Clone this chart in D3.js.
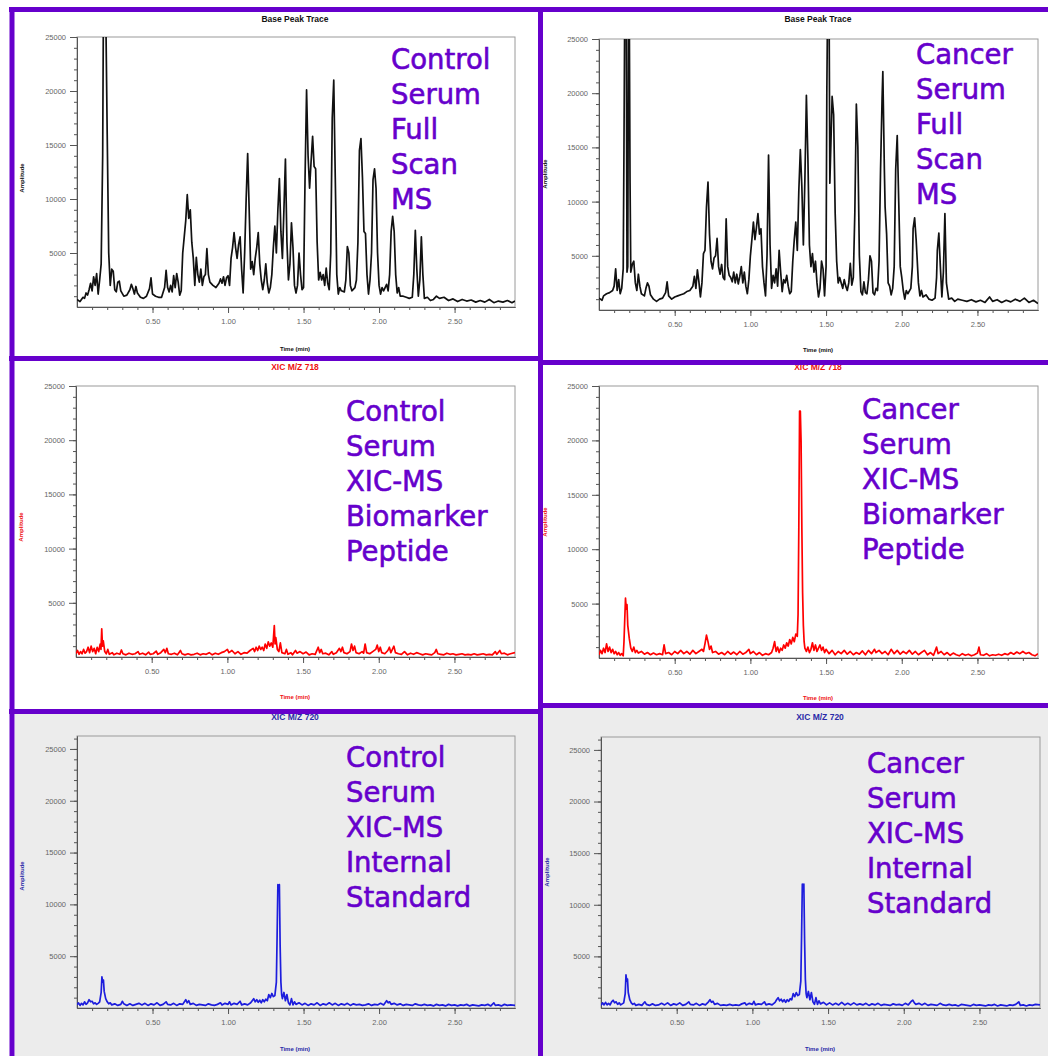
<!DOCTYPE html>
<html>
<head>
<meta charset="utf-8">
<script src="https://cdn.jsdelivr.net/npm/d3@7"></script>
<style>
  body { margin: 0; background: #fff; }
  svg { display: block; font-family: "Liberation Sans", Arial, sans-serif; }
</style>
</head>
<body>
<script>

// Time (min), amplitude pairs
var controlBasePeak = [
  [0.00,700],[0.02,500],[0.04,900],[0.05,800],[0.06,1300],[0.07,1100],[0.08,1600],[0.09,2200],[0.10,1500],[0.11,2800],[0.12,2000],[0.13,3100],[0.14,1200],[0.15,2500],[0.16,4000],
  [0.17,14000],[0.175,28000],[0.19,28000],[0.20,16000],[0.21,5000],[0.22,2000],[0.23,3500],[0.24,3300],[0.25,1600],[0.26,1400],[0.27,2300],[0.28,2400],[0.29,1500],[0.31,1000],
  [0.33,1100],[0.35,1600],[0.36,2100],[0.37,1700],[0.38,1200],[0.39,1900],[0.40,1300],[0.42,900],[0.44,800],[0.46,1000],[0.48,1700],[0.49,2700],[0.50,1200],[0.52,1000],
  [0.54,900],[0.56,900],[0.58,1800],[0.59,3400],[0.60,1800],[0.61,1400],[0.62,2000],[0.63,1400],[0.64,2900],[0.65,1800],[0.66,3100],[0.67,2300],[0.68,1100],[0.69,1500],
  [0.70,5000],[0.71,6500],[0.72,8000],[0.73,10400],[0.74,8200],[0.75,9000],[0.76,6000],[0.77,4500],[0.78,2000],[0.79,4600],[0.80,3000],[0.81,2300],[0.82,3500],[0.83,2000],
  [0.84,2800],[0.85,3000],[0.86,5400],[0.87,3000],[0.88,2300],[0.90,2000],[0.92,1800],[0.94,2200],[0.95,2600],[0.96,2200],[0.97,2800],[0.98,2000],[0.99,2700],[1.00,2900],
  [1.01,2000],[1.02,4500],[1.03,5500],[1.04,6900],[1.05,5500],[1.06,4500],[1.07,5800],[1.08,6500],[1.09,3500],[1.10,1300],[1.11,5000],[1.12,10000],[1.13,14200],[1.14,9000],
  [1.15,3500],[1.16,4200],[1.17,3000],[1.18,4500],[1.19,5500],[1.20,6900],[1.21,4000],[1.22,2500],[1.23,1600],[1.24,2500],[1.25,4000],[1.26,2200],[1.27,1300],[1.28,1800],
  [1.29,3000],[1.30,5500],[1.31,7500],[1.32,5000],[1.33,9000],[1.34,11900],[1.35,7000],[1.36,4500],[1.37,9000],[1.38,13700],[1.39,6000],[1.40,2500],[1.41,4000],[1.42,7800],
  [1.43,5500],[1.44,2000],[1.45,1300],[1.46,2000],[1.47,5000],[1.48,3000],[1.49,1600],[1.50,1800],[1.51,12000],[1.52,20100],[1.53,14000],[1.54,11000],[1.55,13500],[1.56,15800],
  [1.57,13000],[1.58,12800],[1.59,6000],[1.60,2500],[1.61,3200],[1.62,2500],[1.63,3000],[1.64,2000],[1.65,3600],[1.66,2200],[1.67,1600],[1.68,5000],[1.69,17500],[1.70,21000],
  [1.71,12000],[1.72,3000],[1.73,1200],[1.74,1800],[1.75,1500],[1.77,1400],[1.78,2500],[1.79,5600],[1.80,5000],[1.81,2000],[1.82,1500],[1.84,1800],[1.85,2500],[1.86,6000],
  [1.87,14500],[1.88,15600],[1.89,12000],[1.90,7000],[1.91,6800],[1.92,3000],[1.93,1200],[1.94,2500],[1.95,5000],[1.96,11800],[1.97,12800],[1.98,11000],[1.99,5000],[2.00,2000],
  [2.01,1200],[2.02,1800],[2.03,1500],[2.05,2100],[2.06,1500],[2.07,3000],[2.08,7000],[2.09,8400],[2.10,7000],[2.11,3000],[2.12,1300],[2.13,1800],[2.14,1000],[2.16,1000],
  [2.18,900],[2.20,800],[2.22,900],[2.23,3000],[2.24,7100],[2.25,3500],[2.26,1000],[2.27,2500],[2.28,6500],[2.29,3000],[2.30,800],[2.32,900],[2.34,600],[2.36,700],
  [2.38,1000],[2.40,800],[2.43,900],[2.46,600],[2.49,750],[2.52,500],[2.55,700],[2.58,550],[2.61,650],[2.64,450],[2.67,600],[2.70,450],[2.73,700],[2.76,400],
  [2.79,550],[2.82,450],[2.85,600],[2.88,400],[2.90,550]
];

var cancerBasePeak = [
  [0.00,1100],[0.02,900],[0.03,1300],[0.05,1500],[0.07,1600],[0.09,1800],[0.10,2200],[0.11,3800],[0.12,1800],[0.13,2800],[0.14,1500],[0.15,2000],[0.16,3800],[0.165,15000],
  [0.17,28000],[0.18,28000],[0.185,3500],[0.19,4000],[0.195,28000],[0.20,28000],[0.205,12000],[0.21,3500],[0.22,4200],[0.23,4500],[0.24,2500],[0.25,1800],[0.26,3300],
  [0.27,2200],[0.28,1500],[0.30,1300],[0.31,2000],[0.32,2500],[0.33,2200],[0.34,1400],[0.36,1000],[0.38,800],[0.40,1000],[0.42,1100],[0.44,1600],[0.45,2600],[0.46,1300],
  [0.48,1000],[0.50,1200],[0.52,1300],[0.54,1400],[0.56,1500],[0.58,1700],[0.60,1800],[0.62,2200],[0.63,3100],[0.64,2000],[0.65,3700],[0.66,2600],[0.67,1200],[0.68,2500],
  [0.69,5200],[0.70,5500],[0.71,9500],[0.72,11800],[0.73,7000],[0.74,4500],[0.75,3800],[0.76,4800],[0.77,5000],[0.78,6600],[0.79,4000],[0.80,3300],[0.81,4200],[0.82,3000],
  [0.83,2800],[0.84,8400],[0.85,4000],[0.86,3200],[0.87,3000],[0.88,2600],[0.89,3500],[0.90,2500],[0.91,3300],[0.92,2400],[0.93,3100],[0.94,4000],[0.95,2500],[0.96,3500],
  [0.97,2200],[0.98,1500],[0.99,2800],[1.00,5000],[1.01,6500],[1.02,8100],[1.03,6500],[1.04,7600],[1.05,8900],[1.06,7000],[1.07,7500],[1.08,4000],[1.09,2500],[1.10,1300],
  [1.11,5000],[1.12,14300],[1.13,6000],[1.14,2000],[1.15,3200],[1.16,2500],[1.17,3800],[1.18,2200],[1.19,5500],[1.20,3500],[1.21,1700],[1.22,2800],[1.23,2500],[1.24,3200],
  [1.25,2200],[1.26,1500],[1.27,1700],[1.28,4500],[1.29,6500],[1.30,8100],[1.31,5500],[1.32,11000],[1.33,14800],[1.34,11400],[1.35,6000],[1.36,12000],[1.37,19800],[1.38,14000],
  [1.39,6000],[1.40,4000],[1.41,5200],[1.42,3500],[1.43,4500],[1.44,2500],[1.45,1200],[1.46,2000],[1.47,4500],[1.48,3800],[1.49,1300],[1.50,4000],[1.505,20000],[1.51,28000],
  [1.52,28000],[1.525,11700],[1.535,17000],[1.54,19700],[1.55,18000],[1.56,9000],[1.57,4500],[1.58,2500],[1.59,3000],[1.60,2500],[1.61,2000],[1.62,2800],[1.63,2200],
  [1.64,1800],[1.65,2500],[1.66,4300],[1.67,2300],[1.68,3000],[1.69,9000],[1.70,19000],[1.71,15000],[1.72,5000],[1.73,1700],[1.74,1400],[1.75,2600],[1.76,1600],[1.77,1500],
  [1.78,2800],[1.79,5000],[1.80,4500],[1.81,1600],[1.82,1400],[1.83,2000],[1.84,1800],[1.85,4500],[1.86,13000],[1.87,19500],[1.875,22000],[1.885,13000],[1.89,9500],[1.90,7000],
  [1.91,2500],[1.92,2200],[1.93,1400],[1.94,2000],[1.95,4000],[1.96,13000],[1.97,16100],[1.98,10000],[1.99,4000],[2.00,3000],[2.01,1800],[2.02,1000],[2.03,1800],[2.04,1500],
  [2.06,2000],[2.07,4000],[2.075,7500],[2.085,8500],[2.095,6500],[2.11,2500],[2.12,1300],[2.13,1800],[2.14,1200],[2.16,1400],[2.18,1000],[2.20,900],[2.22,1100],[2.23,3000],
  [2.235,5500],[2.245,7100],[2.255,4000],[2.265,1200],[2.275,3500],[2.285,8900],[2.295,2500],[2.31,1000],[2.33,1100],[2.35,800],[2.37,1000],[2.40,900],[2.43,800],[2.46,950],
  [2.49,750],[2.52,900],[2.55,700],[2.58,1200],[2.60,800],[2.63,950],[2.66,700],[2.69,900],[2.72,750],[2.75,1000],[2.78,800],[2.81,1100],[2.84,700],[2.87,900],[2.90,600]
];

var controlXic718 = [
  [0.00,300],[0.01,600],[0.02,250],[0.03,500],[0.04,300],[0.05,700],[0.06,350],[0.07,500],[0.08,900],[0.09,400],[0.10,1000],[0.11,500],[0.12,800],[0.13,300],[0.14,900],
  [0.15,500],[0.16,1200],[0.165,700],[0.17,2600],[0.175,1000],[0.18,1500],[0.19,500],[0.20,300],[0.21,700],[0.22,250],[0.24,400],[0.25,200],[0.27,350],[0.29,250],[0.30,650],
  [0.31,300],[0.33,200],[0.35,350],[0.37,250],[0.39,300],[0.41,500],[0.42,250],[0.44,350],[0.46,200],[0.48,450],[0.49,250],[0.51,300],[0.53,550],[0.54,250],[0.56,400],
  [0.58,700],[0.59,400],[0.60,800],[0.61,300],[0.63,250],[0.65,350],[0.67,200],[0.68,400],[0.69,600],[0.70,300],[0.72,200],[0.74,300],[0.76,200],[0.78,250],[0.80,350],
  [0.82,200],[0.84,300],[0.86,250],[0.88,400],[0.90,200],[0.92,350],[0.94,250],[0.96,400],[0.98,500],[1.00,700],[1.01,400],[1.03,600],[1.05,300],[1.07,500],[1.09,250],
  [1.11,400],[1.13,350],[1.15,600],[1.17,800],[1.18,500],[1.19,900],[1.20,600],[1.21,1000],[1.22,700],[1.23,900],[1.24,600],[1.25,1200],[1.26,800],[1.27,1400],[1.28,1000],
  [1.29,1300],[1.30,900],[1.31,2900],[1.315,1200],[1.32,1800],[1.33,700],[1.34,500],[1.35,1300],[1.36,400],[1.38,300],[1.39,700],[1.40,250],[1.42,400],[1.43,200],[1.45,600],
  [1.46,350],[1.48,500],[1.50,300],[1.52,450],[1.54,200],[1.56,300],[1.58,250],[1.60,900],[1.61,400],[1.62,700],[1.63,300],[1.65,350],[1.67,200],[1.69,500],[1.70,250],
  [1.72,400],[1.74,800],[1.75,500],[1.76,900],[1.77,400],[1.79,300],[1.81,500],[1.82,1200],[1.83,600],[1.84,1000],[1.85,400],[1.87,300],[1.89,500],[1.90,350],[1.91,1200],
  [1.92,400],[1.94,300],[1.96,500],[1.98,700],[1.99,1100],[2.00,500],[2.01,900],[2.02,400],[2.04,300],[2.06,600],[2.07,900],[2.08,400],[2.10,1000],[2.11,400],[2.13,300],
  [2.15,250],[2.17,500],[2.19,200],[2.21,350],[2.23,250],[2.25,400],[2.27,300],[2.29,200],[2.31,300],[2.33,250],[2.35,200],[2.37,400],[2.38,700],[2.39,300],[2.41,250],
  [2.43,200],[2.45,350],[2.47,250],[2.49,300],[2.51,200],[2.53,250],[2.55,300],[2.57,200],[2.59,250],[2.61,200],[2.63,300],[2.65,200],[2.67,250],[2.69,300],[2.71,200],
  [2.73,250],[2.75,200],[2.77,500],[2.78,250],[2.80,600],[2.81,300],[2.83,350],[2.85,200],[2.87,300],[2.90,400]
];

var cancerXic718 = [
  [0.00,300],[0.01,700],[0.02,400],[0.03,900],[0.04,500],[0.05,1300],[0.06,600],[0.07,1000],[0.08,500],[0.09,800],[0.10,400],[0.11,600],[0.12,300],[0.13,500],[0.14,250],
  [0.15,400],[0.16,200],[0.165,1500],[0.17,3500],[0.175,5500],[0.18,4500],[0.185,4900],[0.19,3000],[0.20,1800],[0.21,900],[0.22,600],[0.23,1000],[0.24,500],[0.25,700],
  [0.26,450],[0.28,600],[0.30,350],[0.32,500],[0.34,300],[0.36,450],[0.38,300],[0.40,400],[0.42,300],[0.43,1200],[0.44,400],[0.46,500],[0.48,300],[0.50,600],[0.52,400],
  [0.54,700],[0.56,400],[0.58,600],[0.60,350],[0.62,700],[0.64,400],[0.66,600],[0.68,800],[0.69,600],[0.70,1300],[0.71,2100],[0.72,1500],[0.73,800],[0.74,1100],[0.75,500],
  [0.77,600],[0.79,350],[0.81,500],[0.83,300],[0.85,600],[0.87,350],[0.89,550],[0.91,300],[0.93,600],[0.95,350],[0.97,500],[0.99,800],[1.00,400],[1.02,600],[1.04,300],
  [1.06,500],[1.08,250],[1.10,400],[1.12,300],[1.14,500],[1.15,900],[1.16,1500],[1.17,600],[1.18,1000],[1.19,500],[1.20,900],[1.21,700],[1.22,1200],[1.23,900],[1.24,1400],
  [1.25,1100],[1.26,1700],[1.27,1300],[1.28,1900],[1.29,1500],[1.30,2200],[1.31,2000],[1.315,4000],[1.32,12000],[1.325,22700],[1.33,22700],[1.335,19900],[1.34,12000],
  [1.345,6000],[1.35,3000],[1.355,1500],[1.36,900],[1.37,600],[1.38,1000],[1.39,500],[1.40,800],[1.41,1400],[1.42,700],[1.43,1200],[1.44,600],[1.45,900],[1.46,1200],
  [1.47,700],[1.48,1000],[1.49,500],[1.50,800],[1.52,400],[1.54,700],[1.56,300],[1.58,600],[1.60,400],[1.62,700],[1.64,350],[1.66,600],[1.68,300],[1.70,500],[1.72,350],
  [1.74,650],[1.76,300],[1.78,700],[1.80,400],[1.82,800],[1.83,500],[1.85,700],[1.87,400],[1.89,600],[1.91,300],[1.93,800],[1.95,400],[1.97,700],[1.99,350],[2.01,600],
  [2.03,400],[2.05,700],[2.07,350],[2.09,600],[2.11,300],[2.13,500],[2.15,700],[2.17,300],[2.19,500],[2.21,250],[2.23,1000],[2.24,400],[2.26,600],[2.28,300],[2.30,500],
  [2.32,250],[2.34,450],[2.36,300],[2.38,200],[2.40,400],[2.42,250],[2.44,350],[2.46,200],[2.48,300],[2.50,450],[2.51,1000],[2.52,300],[2.54,250],[2.56,400],[2.58,200],
  [2.60,300],[2.62,250],[2.64,350],[2.66,250],[2.68,400],[2.70,300],[2.72,500],[2.74,350],[2.76,550],[2.78,400],[2.80,600],[2.82,400],[2.84,500],[2.86,300],[2.88,200],[2.90,400]
];

var controlXic720 = [
  [0.00,300],[0.01,500],[0.02,250],[0.03,450],[0.04,300],[0.05,600],[0.06,350],[0.07,500],[0.08,800],[0.09,600],[0.10,650],[0.11,400],[0.12,500],[0.13,350],[0.14,450],
  [0.15,600],[0.16,1500],[0.165,3000],[0.17,2500],[0.175,2700],[0.18,1600],[0.19,900],[0.20,600],[0.21,400],[0.22,500],[0.23,300],[0.25,400],[0.27,250],[0.29,350],[0.30,650],
  [0.31,400],[0.33,250],[0.35,400],[0.37,250],[0.39,350],[0.41,450],[0.43,300],[0.45,450],[0.47,250],[0.49,400],[0.51,300],[0.53,500],[0.55,250],[0.57,350],[0.59,600],
  [0.60,350],[0.62,300],[0.64,450],[0.66,250],[0.68,400],[0.70,350],[0.72,800],[0.73,500],[0.74,700],[0.75,350],[0.77,450],[0.79,250],[0.81,350],[0.83,300],[0.85,250],
  [0.87,400],[0.89,300],[0.91,250],[0.93,350],[0.95,500],[0.96,300],[0.98,450],[1.00,350],[1.01,600],[1.02,300],[1.04,450],[1.06,350],[1.08,650],[1.09,300],[1.11,400],
  [1.13,300],[1.15,500],[1.16,700],[1.17,900],[1.18,600],[1.19,800],[1.20,550],[1.21,750],[1.22,500],[1.23,800],[1.24,600],[1.25,850],[1.26,700],[1.27,1300],[1.28,1000],
  [1.29,1400],[1.30,1100],[1.31,1200],[1.32,2500],[1.325,7000],[1.33,11900],[1.335,11500],[1.34,11900],[1.345,6000],[1.35,2500],[1.355,1300],[1.36,900],[1.37,1500],
  [1.38,700],[1.39,1300],[1.40,500],[1.41,300],[1.42,900],[1.43,300],[1.44,600],[1.45,350],[1.47,500],[1.49,300],[1.51,450],[1.53,250],[1.55,400],[1.57,300],[1.59,500],
  [1.61,250],[1.63,400],[1.65,300],[1.67,500],[1.69,300],[1.71,450],[1.73,250],[1.75,400],[1.77,300],[1.79,450],[1.81,250],[1.83,400],[1.85,300],[1.87,350],[1.89,250],
  [1.91,300],[1.93,400],[1.95,250],[1.97,350],[1.99,300],[2.01,450],[2.03,300],[2.05,700],[2.06,500],[2.07,600],[2.08,350],[2.10,450],[2.12,300],[2.14,400],[2.16,250],
  [2.18,350],[2.20,300],[2.22,250],[2.24,400],[2.26,300],[2.28,250],[2.30,350],[2.32,250],[2.34,300],[2.36,200],[2.38,350],[2.40,250],[2.42,300],[2.44,200],[2.46,350],
  [2.48,250],[2.50,300],[2.52,200],[2.54,300],[2.56,250],[2.58,350],[2.60,200],[2.62,300],[2.64,250],[2.66,200],[2.68,300],[2.70,250],[2.72,350],[2.74,200],[2.76,500],
  [2.77,250],[2.79,300],[2.81,200],[2.83,350],[2.85,250],[2.87,300],[2.90,250]
];

var cancerXic720 = [
  [0.00,250],[0.01,500],[0.02,300],[0.03,550],[0.04,300],[0.05,450],[0.06,300],[0.07,600],[0.08,750],[0.09,500],[0.10,600],[0.11,350],[0.12,500],[0.13,300],[0.14,400],
  [0.15,500],[0.16,1400],[0.165,3200],[0.17,2600],[0.175,2800],[0.18,1500],[0.19,800],[0.20,500],[0.21,350],[0.22,450],[0.23,250],[0.25,350],[0.27,250],[0.29,600],[0.30,350],
  [0.32,250],[0.34,400],[0.36,250],[0.38,300],[0.40,450],[0.42,300],[0.44,500],[0.46,250],[0.48,400],[0.50,300],[0.52,500],[0.54,250],[0.56,350],[0.58,600],[0.59,350],
  [0.61,300],[0.63,450],[0.65,250],[0.67,400],[0.69,300],[0.71,600],[0.72,800],[0.73,550],[0.74,650],[0.75,350],[0.77,450],[0.79,250],[0.81,300],[0.83,250],[0.85,350],
  [0.87,250],[0.89,300],[0.91,250],[0.93,400],[0.95,500],[0.96,300],[0.98,450],[1.00,350],[1.01,650],[1.02,300],[1.04,400],[1.06,350],[1.08,600],[1.09,300],[1.11,400],
  [1.13,300],[1.15,550],[1.16,800],[1.17,1000],[1.18,700],[1.19,850],[1.20,600],[1.21,800],[1.22,550],[1.23,800],[1.24,650],[1.25,900],[1.26,800],[1.27,1400],[1.28,1100],
  [1.29,1500],[1.30,1200],[1.31,1300],[1.32,2600],[1.325,7000],[1.33,12000],[1.335,11600],[1.34,12000],[1.345,6500],[1.35,2800],[1.355,1400],[1.36,1000],[1.37,1600],
  [1.38,800],[1.39,1500],[1.40,600],[1.41,350],[1.42,1000],[1.43,350],[1.44,700],[1.45,400],[1.47,550],[1.49,300],[1.51,500],[1.53,300],[1.55,450],[1.57,300],[1.59,550],
  [1.61,300],[1.63,450],[1.65,300],[1.67,500],[1.69,300],[1.71,400],[1.73,300],[1.75,450],[1.77,250],[1.79,400],[1.81,300],[1.83,450],[1.85,250],[1.87,350],[1.89,300],
  [1.91,250],[1.93,400],[1.95,300],[1.97,350],[1.99,250],[2.01,450],[2.03,300],[2.05,650],[2.06,750],[2.07,500],[2.08,350],[2.10,450],[2.12,300],[2.14,450],[2.16,250],
  [2.18,350],[2.20,300],[2.22,250],[2.24,450],[2.26,300],[2.28,250],[2.30,350],[2.32,250],[2.34,300],[2.36,200],[2.38,350],[2.40,300],[2.42,250],[2.44,200],[2.46,350],
  [2.48,250],[2.50,300],[2.52,250],[2.54,200],[2.56,300],[2.58,250],[2.60,350],[2.62,200],[2.64,300],[2.66,250],[2.68,200],[2.70,300],[2.72,250],[2.74,350],[2.76,600],
  [2.77,250],[2.79,300],[2.81,200],[2.83,300],[2.85,250],[2.87,350],[2.90,300]
];

// Tick labels
var yTickLabels = [5000, 10000, 15000, 20000, 25000];
var xTickLabels = [0.5, 1.0, 1.5, 2.0, 2.5];

// Chart titles and purple captions
var titles = ["Base Peak Trace", "Base Peak Trace", "XIC M/Z 718", "XIC M/Z 718", "XIC M/Z 720", "XIC M/Z 720"];
var captions = [
  ["Control", "Serum", "Full", "Scan", "MS"],
  ["Cancer", "Serum", "Full", "Scan", "MS"],
  ["Control", "Serum", "XIC-MS", "Biomarker", "Peptide"],
  ["Cancer", "Serum", "XIC-MS", "Biomarker", "Peptide"],
  ["Control", "Serum", "XIC-MS", "Internal", "Standard"],
  ["Cancer", "Serum", "XIC-MS", "Internal", "Standard"]
];
var traces = [controlBasePeak, cancerBasePeak, controlXic718, cancerXic718, controlXic720, cancerXic720];

window.onload = function() {

  var w = 1048;
  var h = 1056;
  var purple = "#6600cc";

  var svg = d3.select("body")
              .append("svg")
              .attr("width", w)
              .attr("height", h);

  // panel layout (pixel positions of each screenshot's plot area)
  var panels = [
    {x0: 77,  x1: 515,  y0: 307,  yTop: 37,  yMax: 25000, color: "#111", titleColor: "#111", cx: 295, titleY: 22,  ampX: 24,  ampY: 178, timeY: 351,  capX: 391, capY: 69},
    {x0: 599, x1: 1038, y0: 310,  yTop: 39,  yMax: 25000, color: "#111", titleColor: "#111", cx: 818, titleY: 22,  ampX: 547, ampY: 174, timeY: 352,  capX: 916, capY: 64},
    {x0: 76,  x1: 515,  y0: 657,  yTop: 386, yMax: 25000, color: "#ff0000", titleColor: "#ee1111", cx: 295, titleY: 370, ampX: 23,  ampY: 527, timeY: 699,  capX: 346, capY: 421},
    {x0: 599, x1: 1038, y0: 658,  yTop: 386, yMax: 25000, color: "#ff0000", titleColor: "#ee1111", cx: 818, titleY: 370, ampX: 547, ampY: 522, timeY: 700,  capX: 862, capY: 419},
    {x0: 77,  x1: 515,  y0: 1008, yTop: 736, yMax: 26250, color: "#1d1ddd", titleColor: "#2a2aa8", cx: 295, titleY: 720, ampX: 24,  ampY: 876, timeY: 1051, capX: 346, capY: 767},
    {x0: 601, x1: 1040, y0: 1008, yTop: 737, yMax: 26250, color: "#1d1ddd", titleColor: "#2a2aa8", cx: 820, titleY: 720, ampX: 549, ampY: 872, timeY: 1051, capX: 867, capY: 773}
  ];

  // Grey background of the bottom screenshots
  svg.append("rect").attr("x", 15).attr("y", 712).attr("width", 525).attr("height", h - 712).attr("fill", "#ececec");
  svg.append("rect").attr("x", 541).attr("y", 706).attr("width", w - 541).attr("height", h - 706).attr("fill", "#ececec");

  panels.forEach(function(p, i) {
    drawPanel(p, i);
  });

  // Purple captions
  panels.forEach(function(p, i) {
    svg.append("g")
       .selectAll("text")
       .data(captions[i])
       .enter()
       .append("text")
       .attr("x", p.capX)
       .attr("y", (d, j) => p.capY + j * 35)
       .attr("fill", purple)
       .attr("stroke", purple)
       .attr("stroke-width", 0.6)
       .style("font-family", "'DejaVu Sans', sans-serif")
       .style("font-size", "27.5px")
       .text(d => d);
  });

  // Purple frame lines between the screenshots
  var borders = [
    [9, 9.5, w, 9.5],
    [12, 7, 12, h],
    [540.5, 7, 540.5, h],
    [9, 358.5, 540, 358.5],
    [9, 711.5, 540, 711.5],
    [540, 362.5, w, 362.5],
    [540, 705.5, w, 705.5]
  ];
  svg.append("g")
     .selectAll("line")
     .data(borders)
     .enter()
     .append("line")
     .attr("x1", d => d[0]).attr("y1", d => d[1])
     .attr("x2", d => d[2]).attr("y2", d => d[3])
     .attr("stroke", purple)
     .attr("stroke-width", 5);

  function drawPanel(p, i) {

    var xScale = d3.scaleLinear().domain([0, 2.9]).range([p.x0, p.x1]);
    var yScale = d3.scaleLinear().domain([0, p.yMax]).range([p.y0, p.yTop]);

    var g = svg.append("g");

    // clip so that the off-scale peaks stop at the frame
    g.append("clipPath")
     .attr("id", "clip" + i)
     .append("rect")
     .attr("x", p.x0).attr("y", p.yTop)
     .attr("width", p.x1 - p.x0).attr("height", p.y0 - p.yTop);

    // frame
    g.append("rect")
     .attr("x", p.x0).attr("y", p.yTop)
     .attr("width", p.x1 - p.x0).attr("height", p.y0 - p.yTop)
     .attr("fill", "none")
     .attr("stroke", "#9a9a9a")
     .attr("stroke-width", 1);

    // minor ticks
    g.append("g")
     .attr("transform", `translate(${p.x0},0)`)
     .call(d3.axisLeft(yScale).tickValues(d3.range(1000, p.yMax, 1000)).tickSize(3).tickSizeOuter(0).tickFormat(""));

    g.append("g")
     .attr("transform", `translate(0,${p.y0})`)
     .call(d3.axisBottom(xScale).tickValues(d3.range(1, 29).map(d => d / 10)).tickSize(3).tickSizeOuter(0).tickFormat(""));

    // labelled ticks
    g.append("g")
     .attr("transform", `translate(${p.x0},0)`)
     .call(d3.axisLeft(yScale).tickValues(yTickLabels).tickSize(7).tickPadding(4).tickSizeOuter(0).tickFormat(d3.format("d")));

    g.append("g")
     .attr("transform", `translate(0,${p.y0})`)
     .call(d3.axisBottom(xScale).tickValues(xTickLabels).tickSize(6).tickPadding(6).tickSizeOuter(0).tickFormat(d3.format(".2f")));

    g.selectAll(".domain").attr("stroke", "#555");
    g.selectAll(".tick line").attr("stroke", "#555");
    g.selectAll(".tick text")
     .attr("fill", "#666")
     .style("font-size", "7.5px");

    // trace
    var line = d3.line()
                 .x(d => xScale(d[0]))
                 .y(d => yScale(d[1]));

    g.append("path")
     .datum(traces[i])
     .attr("clip-path", "url(#clip" + i + ")")
     .attr("d", line)
     .attr("fill", "none")
     .attr("stroke", p.color)
     .attr("stroke-width", 1.7)
     .attr("stroke-linejoin", "round");

    // title and axis names
    g.append("text")
     .attr("x", p.cx).attr("y", p.titleY)
     .attr("text-anchor", "middle")
     .attr("fill", p.titleColor)
     .style("font-size", "8.5px")
     .style("font-weight", "bold")
     .text(titles[i]);

    g.append("text")
     .attr("transform", `translate(${p.ampX},${p.ampY}) rotate(-90)`)
     .attr("text-anchor", "middle")
     .attr("fill", p.titleColor)
     .style("font-size", "6px")
     .style("font-weight", "bold")
     .text("Amplitude");

    g.append("text")
     .attr("x", p.cx).attr("y", p.timeY)
     .attr("text-anchor", "middle")
     .attr("fill", p.titleColor)
     .style("font-size", "6px")
     .style("font-weight", "bold")
     .text("Time (min)");
  }
};
</script>
</body>
</html>
